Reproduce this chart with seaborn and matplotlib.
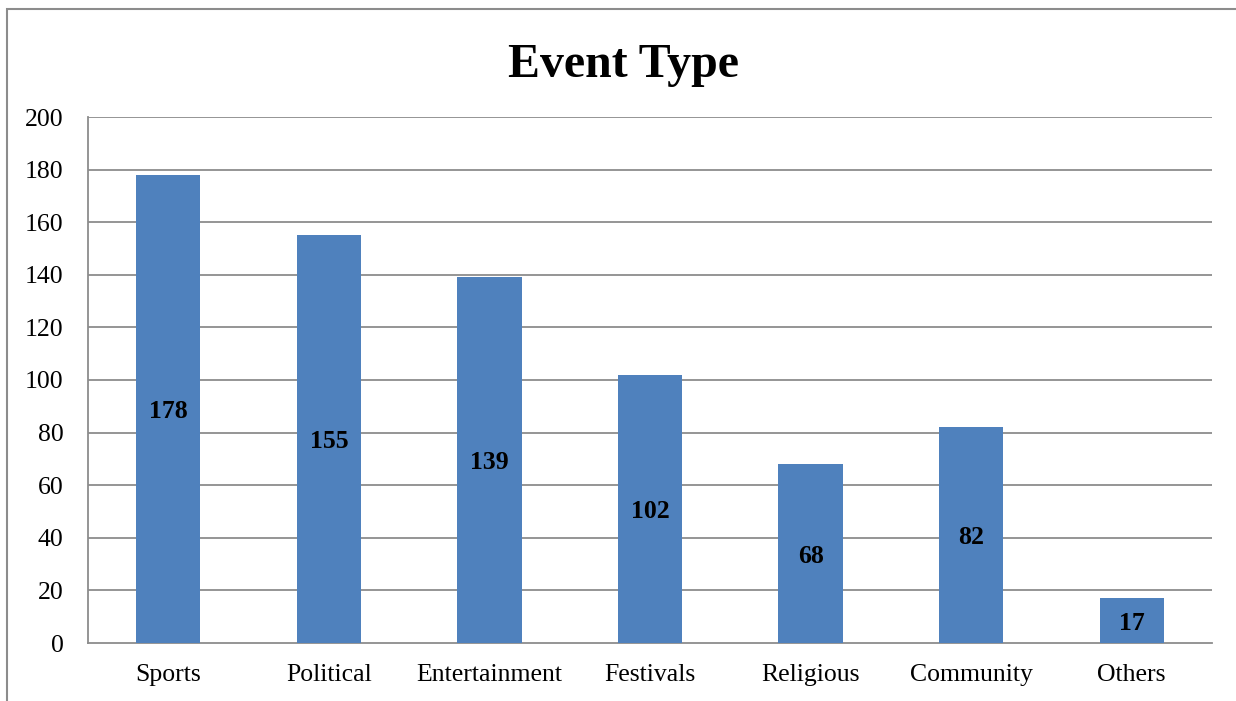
import matplotlib
matplotlib.use("Agg")
import matplotlib.pyplot as plt
import matplotlib.patches as mpatches
import seaborn as sns
import pandas as pd
import numpy as np

categories = ["Sports", "Political", "Entertainment", "Festivals", "Religious", "Community", "Others"]
counts = [178, 155, 139, 102, 68, 82, 17]
y_ticks = [0, 20, 40, 60, 80, 100, 120, 140, 160, 180, 200]

sns.set_theme(style="white")
plt.rcParams["font.family"] = ["Liberation Serif", "DejaVu Serif"]

df = pd.DataFrame({"category": categories, "count": counts})

W, H = 1236, 701
fig = plt.figure(figsize=(W / 100, H / 100), dpi=100)
ax = fig.add_axes([88 / W, 1 - 643 / H, (1212 - 88) / W, (643 - 117) / H])

grid_color = "#8c8c8c"
label_size = 18.5

sns.barplot(data=df, x="category", y="count", color="#4F81BD", saturation=1,
            width=0.4, linewidth=0, edgecolor="none", ax=ax, zorder=3)

ax.set_ylim(0, 200)
ax.set_xlim(-0.5, len(categories) - 0.5)
ax.set_yticks(y_ticks)
ax.set_yticklabels([str(v) for v in y_ticks], fontsize=label_size, color="black")
ax.set_xticks(range(len(categories)))
ax.set_xticklabels(categories, fontsize=label_size, color="black")
ax.set_xticks(np.arange(-0.5, len(categories)), minor=True)
ax.tick_params(axis="x", which="major", length=0, pad=15)
ax.tick_params(axis="x", which="minor", length=6.5, width=1.3, color=grid_color, direction="out")
ax.tick_params(axis="y", which="major", length=6.5, width=1.3, color=grid_color, direction="out", pad=11)
ax.set_xlabel("")
ax.set_ylabel("")

for y in y_ticks[1:]:
    ax.axhline(y, color=grid_color, linewidth=1.3, zorder=1)

for side in ["top", "right"]:
    ax.spines[side].set_visible(False)
for side in ["left", "bottom"]:
    ax.spines[side].set_color(grid_color)
    ax.spines[side].set_linewidth(1.3)

# value labels centred inside each bar
for i, v in enumerate(counts):
    ax.text(i, v / 2, str(v), ha="center", va="center_baseline", fontsize=label_size,
            fontweight="bold", color="black", zorder=4)

fig.text(623 / W, 1 - 65 / H, "Event Type", ha="center", va="center",
         fontsize=34.5, fontweight="bold", color="black")

# chart area frame
frame = mpatches.Rectangle((7 / W, -0.1), 2.0, 1 - 9 / H + 0.1,
                           transform=fig.transFigure, fill=False,
                           edgecolor=grid_color, linewidth=1.5)
fig.patches.append(frame)

fig.savefig("out.png", dpi=100)
